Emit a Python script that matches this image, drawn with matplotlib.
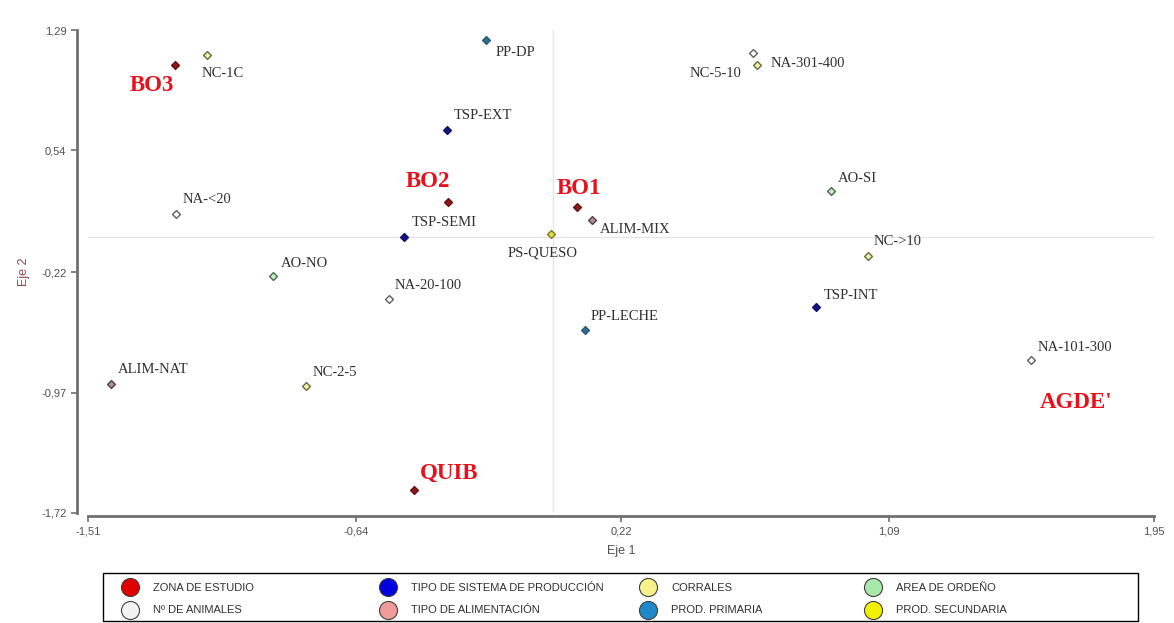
import matplotlib
matplotlib.use("Agg")
import matplotlib.pyplot as plt
from matplotlib.lines import Line2D
from matplotlib.patches import Rectangle

# ---- data ----
zone_names = ["BO3", "BO2", "BO1", "QUIB"]
zone_x = [-1.228, -0.341, 0.078, -0.452]
zone_y = [1.072, 0.218, 0.187, -1.576]
agde_label = "AGDE'"
agde_xy = (1.58, -1.03)

cat_names = ["NC-1C", "PP-DP", "TSP-EXT", "TSP-SEMI", "NA-<20", "AO-NO", "NA-20-100",
             "ALIM-NAT", "NC-2-5", "PS-QUESO", "ALIM-MIX", "PP-LECHE", "NC-5-10",
             "NA-301-400", "AO-SI", "NC->10", "TSP-INT", "NA-101-300"]
cat_x = [-1.124, -0.218, -0.344, -0.484, -1.224, -0.909, -0.533,
         -1.435, -0.802, -0.007, 0.126, 0.104, 0.662,
         0.649, 0.902, 1.022, 0.854, 1.552]
cat_y = [1.134, 1.228, 0.667, 0.000, 0.144, -0.243, -0.386,
         -0.916, -0.928, 0.019, 0.106, -0.579, 1.072,
         1.147, 0.287, -0.118, -0.436, -0.766]
cat_group = ["NC", "PP", "TSP", "TSP", "NA", "AO", "NA",
             "ALIM", "NC", "PS", "ALIM", "PP", "NC",
             "NA", "AO", "NC", "TSP", "NA"]

x_ticks = [-1.51, -0.64, 0.22, 1.09, 1.95]
y_ticks = [-1.72, -0.97, -0.22, 0.54, 1.29]

legend_labels = ["ZONA DE ESTUDIO", "Nº DE ANIMALES",
                 "TIPO DE SISTEMA DE PRODUCCIÓN", "TIPO DE ALIMENTACIÓN",
                 "CORRALES", "PROD. PRIMARIA",
                 "AREA DE ORDEÑO", "PROD. SECUNDARIA"]

# ---- styles ----
legend_colors = ["#e00000", "#f2f2f2", "#0000e0", "#f09a9a",
                 "#f8f08a", "#1f88c8", "#a8e8a8", "#f0f000"]
group_face = {"NC": "#f4f0b0", "PP": "#2f6f90", "TSP": "#14147a", "NA": "#ffffff",
              "AO": "#c8ecc8", "ALIM": "#b09090", "PS": "#e8e040"}
group_edge = {"NC": "#6a6a40", "PP": "#2a5a78", "TSP": "#10106a", "NA": "#606060",
              "AO": "#4a6a4a", "ALIM": "#504040", "PS": "#7a7a20"}

# label offsets in pixels (dx, dy) and horizontal alignment
cat_off = {"NC-1C": (-5, -18, "left"), "PP-DP": (10, -13, "left"),
           "TSP-EXT": (7, 14, "left"), "TSP-SEMI": (8, 14, "left"),
           "NA-<20": (6, 14, "left"), "AO-NO": (8, 12, "left"),
           "NA-20-100": (6, 13, "left"), "ALIM-NAT": (7, 14, "left"),
           "NC-2-5": (6, 13, "left"), "PS-QUESO": (-43, -19, "left"),
           "ALIM-MIX": (8, -10, "left"), "PP-LECHE": (5, 13, "left"),
           "NC-5-10": (-16, -9, "right"), "NA-301-400": (17, -11, "left"),
           "AO-SI": (7, 12, "left"), "NC->10": (6, 14, "left"),
           "TSP-INT": (7, 11, "left"), "NA-101-300": (6, 12, "left")}
zone_off = {"BO3": (-45, -21), "BO2": (-42, 21), "BO1": (-21, 18), "QUIB": (6, 17)}

W, H = 1174, 623
fig = plt.figure(figsize=(W / 100, H / 100), dpi=100)
ax = fig.add_axes([88 / W, 1 - 513 / H, 1066 / W, 483 / H])
ax.set_xlim(x_ticks[0], x_ticks[-1])
ax.set_ylim(y_ticks[0], y_ticks[-1])

ax.axvline(0, color="#e6e6e6", lw=1, zorder=0)
ax.axhline(0, color="#e6e6e6", lw=1, zorder=0)

for s in ["top", "right"]:
    ax.spines[s].set_visible(False)
ax.spines["left"].set_position(("outward", 8))
ax.spines["bottom"].set_position(("outward", 2))
for s in ["left", "bottom"]:
    ax.spines[s].set_color("#707070")
    ax.spines[s].set_linewidth(2)
ax.set_xticks(x_ticks)
ax.set_yticks(y_ticks)
fmt = lambda v: f"{v:.2f}".replace(".", ",")
ax.set_xticklabels([fmt(v) for v in x_ticks])
ax.set_yticklabels([fmt(v) for v in y_ticks])
ax.tick_params(colors="#707070", labelcolor="#505050", labelsize=8, length=4, width=1.2)
for lab in ax.get_xticklabels() + ax.get_yticklabels():
    lab.set_fontfamily("Liberation Sans")
ax.set_xlabel("Eje 1", fontsize=9, color="#505050", family="Liberation Sans", labelpad=6)
ax.set_ylabel("Eje 2", fontsize=9, color="#8a4a4a", family="Liberation Sans")
ax.yaxis.set_label_coords(-58 / 1066, 0.5)

# category points
for n, x, y, g in zip(cat_names, cat_x, cat_y, cat_group):
    ax.scatter([x], [y], marker="D", s=16, facecolor=group_face[g],
               edgecolor=group_edge[g], linewidth=1, zorder=3)
    dx, dy, ha = cat_off[n]
    ax.annotate(n, (x, y), xytext=(dx, dy), textcoords="offset pixels",
                ha=ha, va="center", fontsize=10.5, family="Liberation Serif",
                color="#303030")

# zone points
ax.scatter(zone_x, zone_y, marker="D", s=16, facecolor="#8b1a1a",
           edgecolor="#6a1010", linewidth=1, zorder=3)
for n, x, y in zip(zone_names, zone_x, zone_y):
    dx, dy = zone_off[n]
    ax.annotate(n, (x, y), xytext=(dx, dy), textcoords="offset pixels",
                ha="left", va="center", fontsize=16.5, fontweight="bold",
                family="Liberation Serif", color="#e8101a")
ax.text(agde_xy[0], agde_xy[1], agde_label, ha="left", va="center", fontsize=16.5,
        fontweight="bold", family="Liberation Serif", color="#e8101a")

# legend: frame + four columns
fig.patches.append(Rectangle((103 / W, 1 - 621 / H), 1035 / W, 48 / H,
                             transform=fig.transFigure, fill=False,
                             edgecolor="#000000", linewidth=1))
col_x = [123, 381, 641, 866]
for c in range(4):
    hs = [Line2D([], [], marker="o", linestyle="none", markersize=13,
                 markerfacecolor=legend_colors[2 * c + r], markeredgecolor="#404040",
                 markeredgewidth=0.8) for r in range(2)]
    lg = fig.legend(hs, legend_labels[2 * c:2 * c + 2], loc="center left",
                    bbox_to_anchor=(col_x[c] / W, 1 - 599 / H), frameon=False,
                    prop={"family": "Liberation Sans", "size": 8}, labelcolor="#303030",
                    handletextpad=1.4, borderaxespad=0, labelspacing=1.15,
                    borderpad=0, handlelength=1.3)

fig.savefig("out.png", dpi=100, facecolor="white")
